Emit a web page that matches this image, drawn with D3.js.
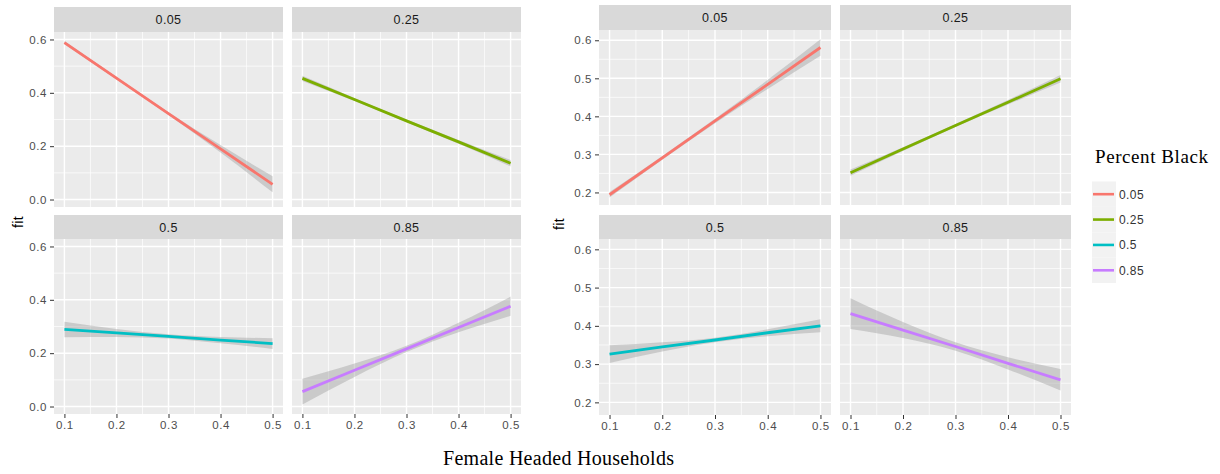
<!DOCTYPE html>
<html>
<head>
<meta charset="utf-8">
<script src="https://cdn.jsdelivr.net/npm/d3@7"></script>
<style>
  html, body { margin: 0; padding: 0; background: #ffffff; }
  svg { display: block; }
  .tick text { font-family: "Liberation Sans", Arial, sans-serif; }
</style>
</head>
<body>
<svg id="chart" width="1220" height="474"></svg>
<script>
// Facet groups (percent black) and their colours
const groups = ["0.05", "0.25", "0.5", "0.85"];
const groupColors = ["#F8766D", "#7CAE00", "#00BFC4", "#C77CFF"];

// Female headed households: evaluation points of the fitted lines
const xValues = [0.1, 0.2, 0.3, 0.4, 0.5];
const xTickValues = [0.1, 0.2, 0.3, 0.4, 0.5];

// Left model: fitted values and confidence band per group
const leftFit = [
  [0.588, 0.455, 0.322, 0.190, 0.057],
  [0.454, 0.375, 0.295, 0.216, 0.136],
  [0.289, 0.276, 0.263, 0.249, 0.236],
  [0.056, 0.136, 0.216, 0.296, 0.376]
];
const leftLower = [
  [0.582, 0.451, 0.317, 0.176, 0.027],
  [0.444, 0.369, 0.290, 0.209, 0.124],
  [0.260, 0.261, 0.255, 0.237, 0.216],
  [0.008, 0.111, 0.204, 0.278, 0.340]
];
const leftUpper = [
  [0.594, 0.459, 0.327, 0.204, 0.087],
  [0.464, 0.381, 0.300, 0.223, 0.148],
  [0.318, 0.291, 0.271, 0.261, 0.256],
  [0.104, 0.161, 0.228, 0.314, 0.412]
];
const leftYTicks = [0.0, 0.2, 0.4, 0.6];
const leftYMinor = [0.1, 0.3, 0.5];

// Right model: fitted values and confidence band per group
const rightFit = [
  [0.194, 0.291, 0.388, 0.484, 0.581],
  [0.252, 0.314, 0.376, 0.437, 0.499],
  [0.326, 0.345, 0.363, 0.382, 0.400],
  [0.432, 0.389, 0.346, 0.302, 0.259]
];
const rightLower = [
  [0.187, 0.286, 0.382, 0.472, 0.559],
  [0.244, 0.309, 0.372, 0.431, 0.489],
  [0.303, 0.333, 0.357, 0.373, 0.383],
  [0.392, 0.368, 0.335, 0.286, 0.231]
];
const rightUpper = [
  [0.201, 0.296, 0.394, 0.496, 0.603],
  [0.260, 0.319, 0.380, 0.443, 0.509],
  [0.349, 0.357, 0.369, 0.391, 0.417],
  [0.472, 0.410, 0.357, 0.318, 0.287]
];
const rightYTicks = [0.2, 0.3, 0.4, 0.5, 0.6];
const rightYMinor = [0.25, 0.35, 0.45, 0.55];

const xMinor = [0.15, 0.25, 0.35, 0.45];

const svg = d3.select("#chart");
const sans = '"Liberation Sans", Arial, sans-serif';
const serif = '"Liberation Serif", "Times New Roman", serif';

function drawFacets(opt) {
  const root = svg.append("g");
  const fmt = d3.format(".1f");

  groups.forEach((g, i) => {
    const row = Math.floor(i / 2), col = i % 2;
    const [px0, px1] = opt.cols[col];
    const [sy0, sy1] = opt.strips[row];
    const [py0, py1] = opt.panels[row];

    const x = d3.scaleLinear().domain([0.08, 0.52]).range([px0, px1]);
    const y = d3.scaleLinear().domain(opt.yDomain).range([py1, py0]);

    const p = root.append("g");

    // strip
    p.append("rect").attr("x", px0).attr("y", sy0)
      .attr("width", px1 - px0).attr("height", sy1 - sy0).attr("fill", "#D9D9D9");
    p.append("text").attr("x", (px0 + px1) / 2).attr("y", (sy0 + sy1) / 2)
      .attr("dy", "0.36em").attr("text-anchor", "middle")
      .attr("font-family", sans).attr("font-size", 12.5).attr("letter-spacing", 0.4)
      .attr("fill", "#1A1A1A").text(g);

    // panel background
    p.append("rect").attr("x", px0).attr("y", py0)
      .attr("width", px1 - px0).attr("height", py1 - py0).attr("fill", "#EBEBEB");

    // minor grid
    p.selectAll(null).data(opt.yMinor).enter().append("line")
      .attr("x1", px0).attr("x2", px1).attr("y1", d => y(d)).attr("y2", d => y(d))
      .attr("stroke", "#FFFFFF").attr("stroke-width", 0.7);
    p.selectAll(null).data(xMinor).enter().append("line")
      .attr("y1", py0).attr("y2", py1).attr("x1", d => x(d)).attr("x2", d => x(d))
      .attr("stroke", "#FFFFFF").attr("stroke-width", 0.7);
    // major grid
    p.selectAll(null).data(opt.yTicks).enter().append("line")
      .attr("x1", px0).attr("x2", px1).attr("y1", d => y(d)).attr("y2", d => y(d))
      .attr("stroke", "#FFFFFF").attr("stroke-width", 1.4);
    p.selectAll(null).data(xTickValues).enter().append("line")
      .attr("y1", py0).attr("y2", py1).attr("x1", d => x(d)).attr("x2", d => x(d))
      .attr("stroke", "#FFFFFF").attr("stroke-width", 1.4);

    // confidence band
    const pts = xValues.map((xv, k) => ({ x: xv, fit: opt.fit[i][k], lo: opt.lower[i][k], hi: opt.upper[i][k] }));
    const area = d3.area().x(d => x(d.x)).y0(d => y(d.lo)).y1(d => y(d.hi)).curve(d3.curveMonotoneX);
    p.append("path").datum(pts).attr("d", area)
      .attr("fill", "#999999").attr("fill-opacity", 0.4);

    // fitted line
    const line = d3.line().x(d => x(d.x)).y(d => y(d.fit));
    p.append("path").datum(pts).attr("d", line)
      .attr("fill", "none").attr("stroke", groupColors[i]).attr("stroke-width", 2.8);

    // axes
    if (col === 0) {
      const ay = p.append("g").attr("transform", `translate(${px0},0)`)
        .call(d3.axisLeft(y).tickValues(opt.yTicks).tickFormat(fmt).tickSize(4).tickPadding(3));
      ay.select(".domain").remove();
      ay.selectAll(".tick line").attr("stroke", "#333333").attr("stroke-width", 1);
      ay.selectAll(".tick text").attr("fill", "#4D4D4D").attr("font-size", 11.5)
        .attr("letter-spacing", 0.6).attr("font-family", sans);
    }
    if (row === 1) {
      const ax = p.append("g").attr("transform", `translate(0,${py1})`)
        .call(d3.axisBottom(x).tickValues(xTickValues).tickFormat(fmt).tickSize(4).tickPadding(3));
      ax.select(".domain").remove();
      ax.selectAll(".tick line").attr("stroke", "#333333").attr("stroke-width", 1);
      ax.selectAll(".tick text").attr("fill", "#4D4D4D").attr("font-size", 11.5)
        .attr("letter-spacing", 0.6).attr("font-family", sans);
    }
  });

  // y axis title
  root.append("text")
    .attr("transform", `translate(${opt.fitLabel[0]},${opt.fitLabel[1]}) rotate(-90)`)
    .attr("text-anchor", "middle").attr("dy", "0.36em")
    .attr("font-family", sans).attr("font-size", 14).attr("letter-spacing", 0.4)
    .attr("fill", "#000000").text("fit");
}

// Left model
drawFacets({
  cols: [[54, 283], [292, 521]],
  strips: [[7, 32], [215, 239]],
  panels: [[32, 207], [239, 414]],
  yDomain: [-0.028, 0.628],
  yTicks: leftYTicks, yMinor: leftYMinor,
  fit: leftFit, lower: leftLower, upper: leftUpper,
  fitLabel: [18, 222]
});

// Right model
drawFacets({
  cols: [[599, 831], [840, 1071]],
  strips: [[5, 30], [215, 239]],
  panels: [[30, 205], [239, 415]],
  yDomain: [0.167, 0.627],
  yTicks: rightYTicks, yMinor: rightYMinor,
  fit: rightFit, lower: rightLower, upper: rightUpper,
  fitLabel: [559, 224]
});

// shared x axis title
svg.append("text").attr("x", 443).attr("y", 465)
  .attr("font-family", serif).attr("font-size", 20).attr("fill", "#000000")
  .attr("textLength", 231).attr("lengthAdjust", "spacing")
  .text("Female Headed Households");

// legend
const legend = svg.append("g");
legend.append("text").attr("x", 1095).attr("y", 163)
  .attr("font-family", serif).attr("font-size", 19).attr("fill", "#000000")
  .attr("textLength", 113).attr("lengthAdjust", "spacing")
  .text("Percent Black");
const keyY = d3.scaleBand().domain(groups).range([181.5, 283]);
const keys = legend.selectAll(null).data(groups).enter().append("g")
  .attr("transform", d => `translate(0,${keyY(d)})`);
keys.append("rect").attr("x", 1092).attr("y", 0)
  .attr("width", 24).attr("height", keyY.bandwidth()).attr("fill", "#F2F2F2");
keys.append("line").attr("x1", 1093).attr("x2", 1114)
  .attr("y1", keyY.bandwidth() / 2).attr("y2", keyY.bandwidth() / 2)
  .attr("stroke", (d, i) => groupColors[i]).attr("stroke-width", 2.6);
keys.append("text").attr("x", 1119).attr("y", keyY.bandwidth() / 2).attr("dy", "0.36em")
  .attr("font-family", sans).attr("font-size", 12).attr("letter-spacing", 0.4)
  .attr("fill", "#333333").text(d => d);
</script>
</body>
</html>
